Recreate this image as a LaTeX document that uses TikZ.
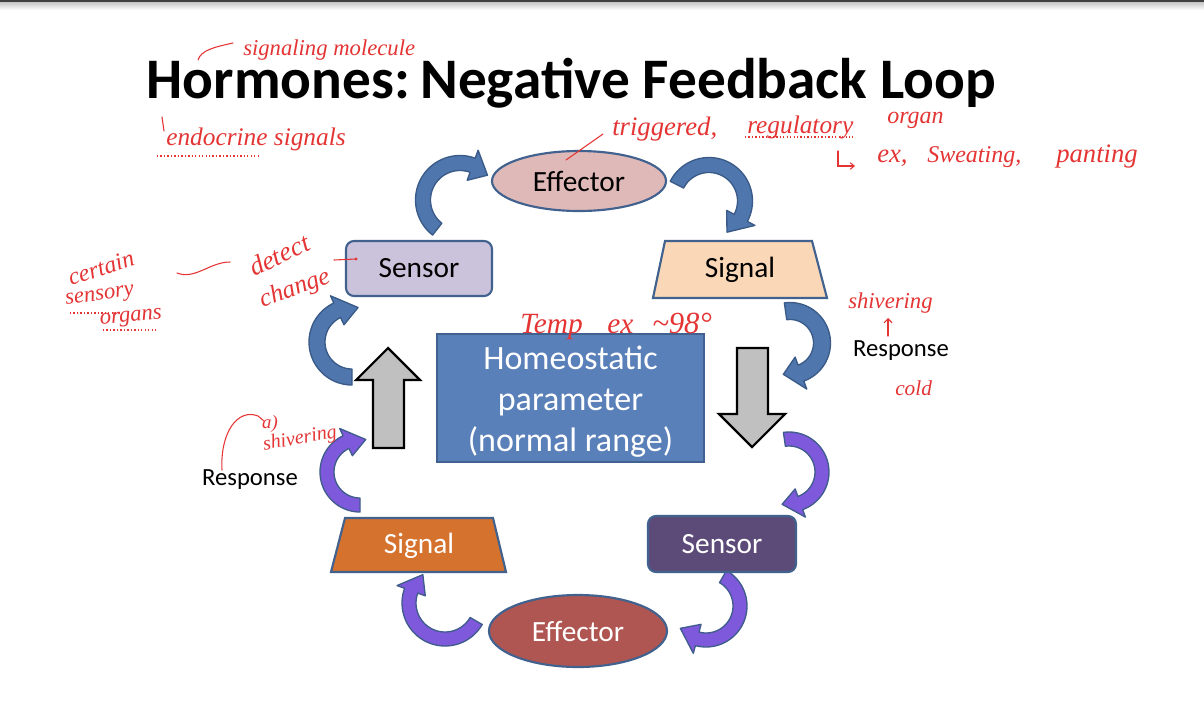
\documentclass[tikz,border=0pt]{standalone}
\usepackage{fontspec}
\setmainfont{Carlito}
\newfontfamily\hand{Liberation Serif}
\usetikzlibrary{shapes.geometric,arrows.meta}
\definecolor{bordc}{HTML}{41628F}
\definecolor{effTc}{HTML}{DFB9B8}
\definecolor{senTc}{HTML}{CBC3DB}
\definecolor{sigTc}{HTML}{FAD7B6}
\definecolor{homc}{HTML}{5A80B9}
\definecolor{sigBc}{HTML}{D5722D}
\definecolor{senBc}{HTML}{5C4B79}
\definecolor{effBc}{HTML}{B05652}
\definecolor{bluearr}{HTML}{4F76AD}
\definecolor{bluearrb}{HTML}{3A5A88}
\definecolor{purarr}{HTML}{7E59DC}
\definecolor{purarrb}{HTML}{3F5C8C}
\definecolor{grayarr}{HTML}{C0C0C0}
\definecolor{penred}{RGB}{228,52,52}
\newcommand\hs[1]{\fontsize{#1}{#1}\selectfont\hand\itshape}
\newcommand\curvblock[9]{%
 \filldraw[#9] plot[domain=#4:#5,samples=40,variable=\t]
   ({#1+(#3+#7/2)*cos(\t)},{#2+(#3+#7/2)*sin(\t)})
  -- ({#1+(#3+#8)*cos(#5)},{#2+(#3+#8)*sin(#5)})
  -- ({#1+#3*cos(#6)},{#2+#3*sin(#6)})
  -- ({#1+(#3-#8)*cos(#5)},{#2+(#3-#8)*sin(#5)})
  -- plot[domain=#4:#5,samples=40,variable=\t]
   ({#1+(#3-#7/2)*cos(#4+#5-\t)},{#2+(#3-#7/2)*sin(#4+#5-\t)})
  -- cycle;}
\begin{document}
\begin{tikzpicture}[x=0.75pt,y=-0.75pt,
  shapebd/.style={draw=bordc, line width=1.6pt},
  boxtext/.style={font=\fontsize{22}{26}\selectfont, inner sep=0pt},
  bluestyle/.style={fill=bluearr, draw=bluearrb, line width=1pt, line join=round},
  purstyle/.style={fill=purarr, draw=purarrb, line width=1pt, line join=round},
  grayblock/.style={fill=grayarr, draw=black, line width=1.6pt, line join=miter},
  pen/.style={text=penred, inner sep=0pt},
  penline/.style={draw=penred, line width=0.8pt, line cap=round},
  pendot/.style={draw=penred, line width=1pt, dash pattern=on 1pt off 1.6pt}]
\useasboundingbox (0,0) rectangle (1204,722);
\fill[white] (0,0) rectangle (1204,722);
% top bar
\shade[top color=black!22, bottom color=white] (0,2) rectangle (1204,10);
\fill[black!75] (0,0) rectangle (1204,2);

% title
\node[font=\fontsize{43}{50}\selectfont\bfseries, anchor=base, inner sep=0pt] (title) at (571.5,98) {Hormones:\hspace{-0.12em} Negative Feedback Loop};

% curved block arrows (blue loop)
\curvblock{460}{200}{37}{128}{290}{318}{15}{16}{bluestyle}
\curvblock{709}{201}{36}{207}{388}{420}{15}{16}{bluestyle}
\curvblock{790}{343}{32}{262}{430}{462}{17}{17}{bluestyle}
\curvblock{352}{342}{35}{90}{245}{280}{16}{16}{bluestyle}
% curved block arrows (purple loop)
\curvblock{360}{472}{33}{90}{245}{280}{14}{15}{purstyle}
\curvblock{789}{472}{33}{262}{430}{462}{14}{15}{purstyle}
\curvblock{445}{603}{36}{30}{200}{232}{14}{15}{purstyle}
\curvblock{706}{606}{34}{300}{465}{499}{14}{15}{purstyle}

% gray block arrows
\draw[grayblock] (373,448) -- (373,380) -- (356,380) -- (388,348) -- (420,380) -- (404,380) -- (404,448) -- cycle;
\draw[grayblock] (737,348) -- (768,348) -- (768,414) -- (785,414) -- (752,447) -- (719,414) -- (737,414) -- cycle;

% top loop nodes
\node[ellipse, shapebd, fill=effTc, minimum width=174*0.75pt, minimum height=60*0.75pt, boxtext] (effT) at (579,181) {Effector};
\node[rectangle, rounded corners=6pt, shapebd, fill=senTc, minimum width=146*0.75pt, minimum height=55*0.75pt, boxtext] (senT) at (419,268.5) {Sensor};
\draw[shapebd, fill=sigTc, line join=miter] (653,298) -- (665,241) -- (812,241) -- (827,298) -- cycle;
\node[boxtext] (sigT) at (740,270) {Signal};

% centre box
\node[rectangle, shapebd, fill=homc, minimum width=267*0.75pt, minimum height=128*0.75pt, inner sep=0pt] (homeo) at (570.5,398) {};
\node[inner sep=0pt, align=center, text=white, font=\fontsize{25.5}{31}\selectfont] (homeoText) at (570.5,401.5) {Homeostatic\\parameter\\(normal range)};

% bottom loop nodes
\draw[shapebd, fill=sigBc, line join=miter] (331,572) -- (345,518) -- (493,518) -- (506,572) -- cycle;
\node[boxtext, text=white] (sigB) at (419,546) {Signal};
\node[rectangle, rounded corners=6pt, shapebd, fill=senBc, minimum width=148*0.75pt, minimum height=56*0.75pt, boxtext, text=white] (senB) at (722,544) {Sensor};
\node[ellipse, shapebd, fill=effBc, minimum width=178*0.75pt, minimum height=72*0.75pt, boxtext, text=white] (effB) at (578,631) {Effector};

% response labels
\node[font=\fontsize{18.5}{22}\selectfont, inner sep=0pt] (respR) at (901,351) {Response};
\node[font=\fontsize{18.5}{22}\selectfont, inner sep=0pt] (respL) at (250,480) {Response};

% handwritten annotations
\node[pen, font=\hs{17}, anchor=base west] (nSig) at (243,55) {signaling molecule};
\draw[penline] (198,60) .. controls (201,50) and (215,47) .. (233,43);
\draw[penline] (162,117) -- (164,131);
\node[pen, font=\hs{19}, anchor=base west] (nEnd) at (166,145) {endocrine signals};
\draw[pendot] (157,156) -- (258,156);

\node[pen, font=\hs{20}, anchor=base west] (nTrig) at (612,135) {triggered,};
\draw[penline] (566,160) -- (603,134);
\node[pen, font=\hs{19}, anchor=base west] (nReg) at (747,133) {regulatory};
\draw[pendot] (745,137) -- (853,137);
\node[pen, font=\hs{18}, anchor=base west] (nOrg) at (887,123) {organ};
\draw[penline, -{Straight Barb[length=3pt,width=5pt]}] (838,151) -- (838,166) -- (855,166);
\node[pen, font=\hs{20}, anchor=base west] (nEx) at (877,162) {ex,};
\node[pen, font=\hs{18}, anchor=base west] (nSw) at (927,162) {Sweating,};
\node[pen, font=\hs{20}, anchor=base west] (nPan) at (1056,162) {panting};

\node[pen, font=\hs{18}, rotate=18] (nCer) at (101,268) {certain};
\node[pen, font=\hs{17}, rotate=8] (nSen) at (100,297) {sensory};
\draw[pendot] (70,313) -- (122,313);
\node[pen, font=\hs{17}, rotate=5] (nOrgs) at (131,319) {organs};
\draw[pendot] (103,330) -- (157,330);
\draw[penline] (177,273) .. controls (195,280) and (210,262) .. (230,262);
\node[pen, font=\hs{20}, rotate=25] (nDet) at (279,255) {detect};
\node[pen, font=\hs{19}, rotate=20] (nCha) at (295,289) {change};
\draw[penline] (334,260) -- (356,259);
\fill[penred] (356,259) circle (1.6);

\node[pen, font=\hs{22}, anchor=base west] (nTemp) at (520,333) {Temp};
\node[pen, font=\hs{22}, anchor=base west] (nTex) at (607,333) {ex};
\node[pen, font=\hs{23}, anchor=base west] (nNin) at (652,333) {\textasciitilde98°};

\node[pen, font=\hs{17}, anchor=base west] (nShR) at (848,308) {shivering};
\draw[penline, -{Straight Barb[length=3pt,width=6pt]}] (888,336) -- (888,318);
\node[pen, font=\hs{16}, anchor=base west] (nCold) at (895,395) {cold};

\node[pen, font=\hs{14}] (nA) at (270,424) {a)};
\node[pen, font=\hs{15}, rotate=10] (nShL) at (300,439) {shivering};
\draw[penline] (222,470) .. controls (220,432) and (238,408) .. (258,416) -- (264,421);
\end{tikzpicture}
\end{document}
